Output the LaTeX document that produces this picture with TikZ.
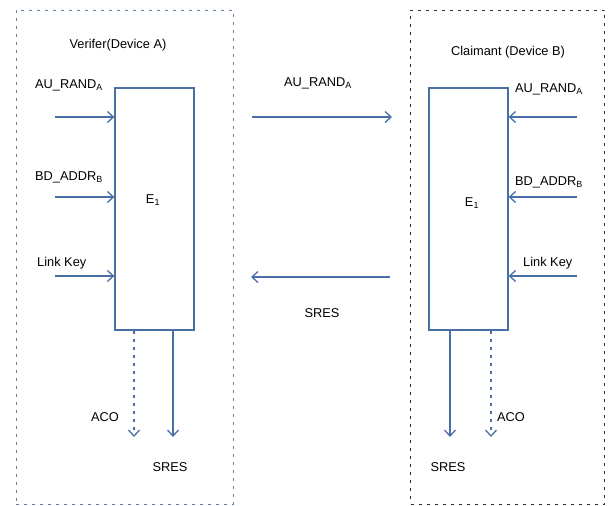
\documentclass[tikz,border=0pt]{standalone}
\usepackage{fontspec}
\setmainfont{Liberation Sans}
\usetikzlibrary{arrows.meta,positioning}
\definecolor{FlowBlue}{HTML}{4A6FA5}
\definecolor{FrameBlue}{HTML}{5F7FA8}
\definecolor{FrameDark}{HTML}{303030}

\begin{document}
\begin{tikzpicture}[
    x=1pt,y=-1pt,
    every node/.style={font=\fontsize{12.8}{14}\selectfont},
    frame/.style={draw,line width=1pt,dash pattern=on 3pt off 5pt,
                  minimum width=#1,minimum height=494pt,inner sep=0pt},
    ebox/.style={draw=FlowBlue,line width=1.3pt,fill=white,
                 minimum width=79pt,minimum height=242pt,inner sep=0pt},
    flow/.style={-{Straight Barb[length=6pt,width=11pt]},line width=1.3pt,color=FlowBlue},
    flowdash/.style={flow,dash pattern=on 3pt off 5pt},
    tag/.style={inner sep=0pt}
  ]
    \useasboundingbox (0,0) rectangle (608,506);

    % device frames
    \node[frame=217pt,draw=FrameBlue] (devA) at (124.5,257) {};
    \node[frame=194pt,draw=FrameDark] (devB) at (507.5,257) {};
    \node[tag] (titleA) at (118,45) {Verifer(Device A)};
    \node[tag] (titleB) at (508,52) {Claimant (Device B)};

    % E1 blocks
    \node[ebox] (encA) at (154.5,209) {};
    \node[ebox] (encB) at (468.5,209) {};
    \node[tag] (nameA) at (153,200) {E\textsubscript{1}};
    \node[tag] (nameB) at (472,203) {E\textsubscript{1}};

    % inputs of device A
    \node[tag,anchor=west] (randA) at (35,85) {AU\_RAND\textsubscript{A}};
    \node[tag,anchor=west] (addrA) at (35,177) {BD\_ADDR\textsubscript{B}};
    \node[tag,anchor=west] (keyA) at (37,263) {Link Key};
    \coordinate (inA1) at (55,117);
    \coordinate (inA2) at (55,197);
    \coordinate (inA3) at (55,276);
    \foreach \i in {1,2,3}
      \draw[flow] (inA\i) -- (inA\i -| encA.west);

    % inputs of device B
    \node[tag,anchor=west] (randB) at (515,89) {AU\_RAND\textsubscript{A}};
    \node[tag,anchor=west] (addrB) at (515,182) {BD\_ADDR\textsubscript{B}};
    \node[tag,anchor=west] (keyB) at (523,263) {Link Key};
    \coordinate (inB1) at (577,117);
    \coordinate (inB2) at (577,197);
    \coordinate (inB3) at (577,276);
    \foreach \i in {1,2,3}
      \draw[flow] (inB\i) -- (inB\i -| encB.east);

    % exchange between devices
    \node[tag] (randMid) at (318,83) {AU\_RAND\textsubscript{A}};
    \node[tag] (sresMid) at (322,313) {SRES};
    \coordinate (sendL) at (252,117);
    \coordinate (sendR) at (392,117);
    \coordinate (backR) at (390,277);
    \coordinate (backL) at (251,277);
    \draw[flow] (sendL) -- (sendR);
    \draw[flow] (backR) -- (backL);

    % outputs
    \node[tag] (acoA) at (105,417) {ACO};
    \node[tag] (sresA) at (170,467) {SRES};
    \node[tag] (acoB) at (511,417) {ACO};
    \node[tag] (sresB) at (448,467) {SRES};
    \coordinate (acoEndA) at (134,437);
    \coordinate (sresEndA) at (173,437);
    \coordinate (sresEndB) at (450,437);
    \coordinate (acoEndB) at (491,437);
    \draw[flowdash] (acoEndA |- encA.south) -- (acoEndA);
    \draw[flow] (sresEndA |- encA.south) -- (sresEndA);
    \draw[flow] (sresEndB |- encB.south) -- (sresEndB);
    \draw[flowdash] (acoEndB |- encB.south) -- (acoEndB);
  \end{tikzpicture}
\end{document}
